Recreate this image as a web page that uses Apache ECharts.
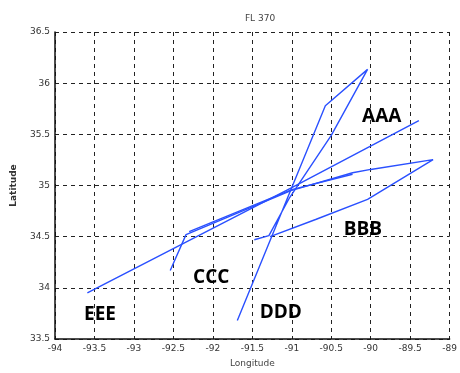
<!DOCTYPE html>
<html>
<head>
<meta charset="utf-8">
<script src="https://cdn.jsdelivr.net/npm/echarts@6/dist/echarts.min.js"></script>
<style>
  html, body { margin: 0; padding: 0; background: #fff; }
  #chart { width: 460px; height: 373px; }
</style>
</head>
<body>
<div id="chart"></div>
<script>
// flight tracks, [longitude, latitude]
var trackAD = [[-91.69, 33.68], [-91.0, 34.98], [-90.575, 35.78], [-90.04, 36.135],
               [-90.5, 35.49], [-91.025, 34.885], [-91.29, 34.51], [-91.475, 34.47]];
var trackCB = [[-92.54, 34.17], [-92.34, 34.52], [-91.01, 34.95], [-90.23, 35.125],
               [-90.0, 35.157], [-89.21, 35.253], [-90.04, 34.865], [-90.69, 34.67], [-91.275, 34.5]];
var trackC2 = [[-92.3, 34.55], [-91.0, 34.96], [-90.23, 35.11]];
var trackE = [[-93.59, 33.95], [-91.0, 34.98], [-89.39, 35.635]];

var labelNames = ['AAA', 'BBB', 'CCC', 'DDD', 'EEE'];
var labelPos = [[-89.86, 35.67], [-90.10, 34.565], [-92.02, 34.10], [-91.14, 33.76], [-93.43, 33.74]];

var xTicks = [-94, -89, 0.5];
var yTicks = [33.5, 36.5, 0.5];

var lineColor = '#2a50ff';

function trackSeries(name, pts) {
  return {
    name: name,
    type: 'line',
    data: pts,
    symbol: 'none',
    smooth: false,
    silent: true,
    lineStyle: { color: lineColor, width: 1.4 },
    z: 3
  };
}

var chart = echarts.init(document.getElementById('chart'));

var labelData = labelNames.map(function (n, i) {
  return { name: n, value: labelPos[i] };
});

var gridDash = {
  show: true,
  lineStyle: { color: '#222', type: [4, 4], width: 1 }
};

chart.setOption({
  animation: false,
  backgroundColor: '#fff',
  title: {
    text: 'FL 370',
    left: 255,
    top: 9,
    textAlign: 'center',
    textStyle: { fontFamily: 'DejaVu Sans', fontSize: 9, fontWeight: 'normal', color: '#444' }
  },
  grid: { left: 55, right: 5, top: 32, bottom: 29, containLabel: false },
  xAxis: {
    type: 'value',
    min: xTicks[0],
    max: xTicks[1],
    interval: xTicks[2],
    name: 'Longitude',
    nameLocation: 'middle',
    nameGap: 20,
    nameTextStyle: { fontFamily: 'DejaVu Sans', fontSize: 9, color: '#444' },
    axisLine: { show: true, onZero: false, lineStyle: { color: '#111', width: 1.5 } },
    axisTick: { show: false },
    axisLabel: { fontFamily: 'DejaVu Sans', fontSize: 9, color: '#333', margin: 5, showMaxLabel: true },
    splitLine: gridDash
  },
  yAxis: {
    type: 'value',
    min: yTicks[0],
    max: yTicks[1],
    interval: yTicks[2],
    name: 'Latitude',
    nameLocation: 'middle',
    nameGap: 37,
    nameRotate: 90,
    nameTextStyle: { fontFamily: 'DejaVu Sans', fontSize: 9, fontWeight: 'bold', color: '#333' },
    axisLine: { show: true, onZero: false, lineStyle: { color: '#111', width: 1.5 } },
    axisTick: { show: false },
    axisLabel: { fontFamily: 'DejaVu Sans', fontSize: 9, color: '#333', margin: 5 },
    splitLine: gridDash
  },
  series: [
    trackSeries('AAA-DDD', trackAD),
    trackSeries('CCC-BBB', trackCB),
    trackSeries('CCC-2', trackC2),
    trackSeries('EEE', trackE),
    {
      name: 'labels',
      type: 'scatter',
      data: labelData,
      symbolSize: 1,
      silent: true,
      z: 5,
      itemStyle: { opacity: 0 },
      label: {
        show: true,
        position: 'inside',
        opacity: 1,
        formatter: '{b}',
        fontFamily: 'Open Sans',
        fontWeight: 'bold',
        fontSize: 19,
        color: '#000'
      }
    }
  ]
});
</script>
</body>
</html>
